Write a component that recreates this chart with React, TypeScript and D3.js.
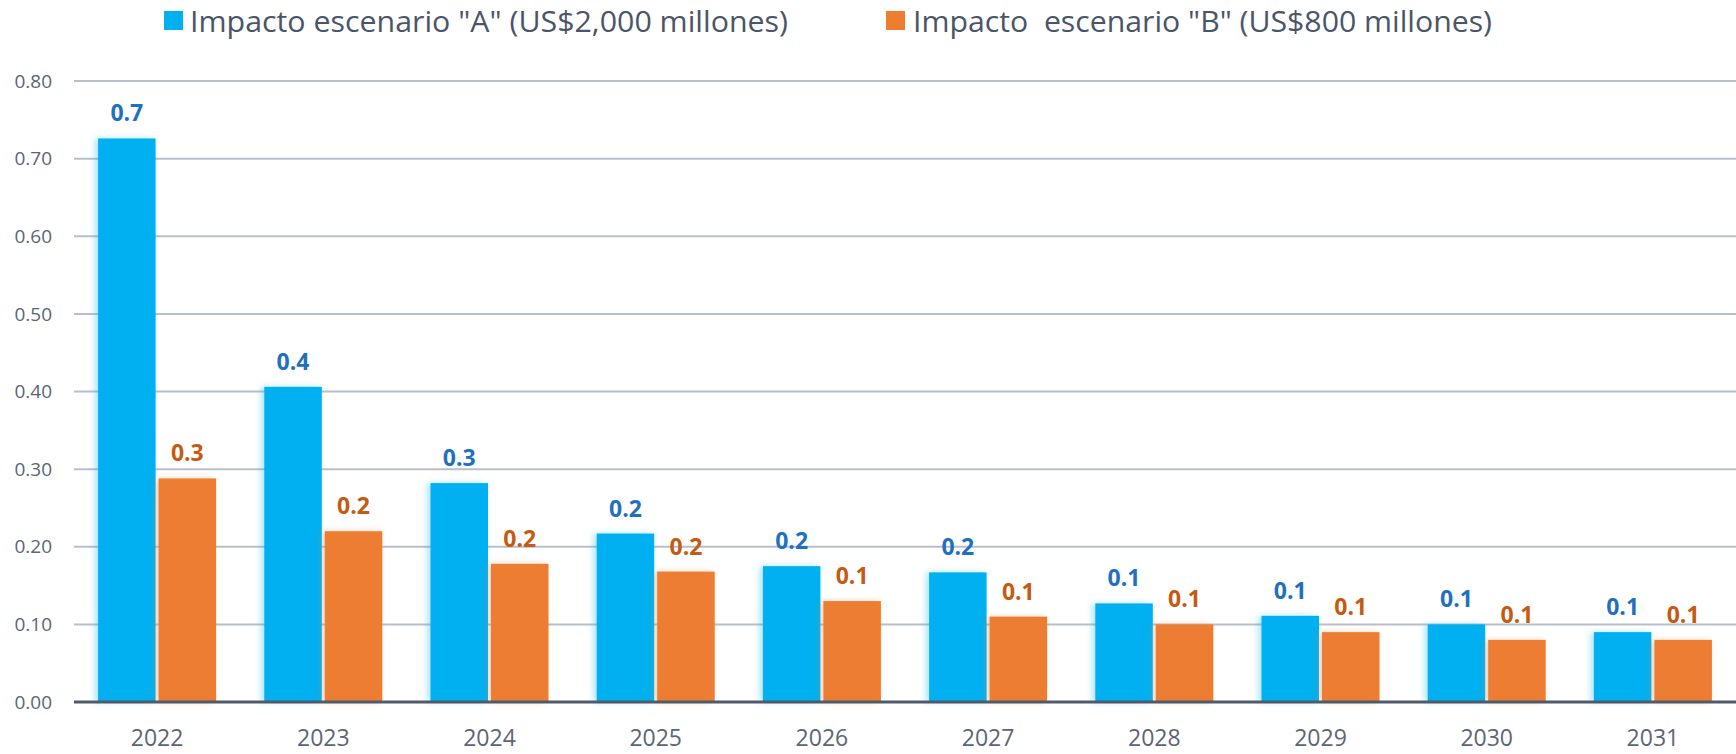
import React from "react";
import * as d3 from "d3";

const years = ["2022", "2023", "2024", "2025", "2026", "2027", "2028", "2029", "2030", "2031"];
const scenarioA = [0.726, 0.406, 0.282, 0.217, 0.175, 0.167, 0.127, 0.111, 0.1, 0.09];
const scenarioB = [0.288, 0.22, 0.178, 0.168, 0.13, 0.11, 0.1, 0.09, 0.08, 0.08];
const yTicks = [0, 0.1, 0.2, 0.3, 0.4, 0.5, 0.6, 0.7, 0.8];
const seriesNames = ['Impacto escenario "A" (US$2,000 millones)', 'Impacto  escenario "B" (US$800 millones)'];

const W = 1736;
const H = 754;
const margin = { top: 81, right: 0, bottom: 52, left: 74 };
const font = "'Segoe UI', 'Open Sans', sans-serif";

// keep the double space in the legend (svg collapses it otherwise)
const keepSpaces = (s: string) => s.replace(/ {2}/g, " \u00A0");

export default function App() {
  const x0 = d3
    .scaleBand()
    .domain(years)
    .range([margin.left, W - margin.right])
    .paddingInner(0.29)
    .paddingOuter(0.145);
  const x1 = d3.scaleBand().domain(["A", "B"]).range([0, x0.bandwidth()]).paddingInner(0.05);
  const y = d3.scaleLinear().domain([0, 0.8]).range([H - margin.bottom, margin.top]);

  const series = [
    { key: "A", values: scenarioA, fill: "#00B0F0", label: "#1F70C1" },
    { key: "B", values: scenarioB, fill: "#ED7D31", label: "#C55A11" },
  ];

  return (
    <div style={{ position: "absolute", left: 0, top: 0 }}>
      <svg width={W} height={H} style={{ display: "block", background: "#fff" }}>
        <defs>
          <filter id="glow" x="-30%" y="-5%" width="160%" height="110%">
            <feGaussianBlur in="SourceGraphic" stdDeviation="3" result="b" />
            <feOffset in="b" dx="-3" dy="0" result="o" />
            <feComponentTransfer in="o" result="f">
              <feFuncA type="linear" slope="0.35" />
            </feComponentTransfer>
            <feMerge>
              <feMergeNode in="f" />
              <feMergeNode in="SourceGraphic" />
            </feMerge>
          </filter>
        </defs>

        {/* legend */}
        <g fontFamily={font} fontSize={30} fill="#4A5568">
          <rect x={164} y={11} width={19} height={19} fill="#00B0F0" />
          <text x={190} y={32} textLength={598} lengthAdjust="spacingAndGlyphs">
            {keepSpaces(seriesNames[0])}
          </text>
          <rect x={886} y={11} width={19} height={19} fill="#ED7D31" />
          <text x={913} y={32} textLength={579} lengthAdjust="spacingAndGlyphs">
            {keepSpaces(seriesNames[1])}
          </text>
        </g>

        {/* y grid + ticks */}
        <g fontFamily={font} fontSize={19} fill="#5B6577">
          {yTicks.map((t) => (
            <g key={t}>
              {t > 0 && (
                <line x1={margin.left} x2={W} y1={y(t)} y2={y(t)} stroke="#B8BFCC" strokeWidth={2} />
              )}
              <text x={52} y={y(t)} dy="0.35em" textAnchor="end">
                {t.toFixed(2)}
              </text>
            </g>
          ))}
        </g>

        {/* bars */}
        {years.map((yr, i) => (
          <g key={yr} transform={`translate(${x0(yr)},0)`}>
            {series.map((s) => (
              <g key={s.key}>
                <rect
                  x={x1(s.key)}
                  y={y(s.values[i])}
                  width={x1.bandwidth()}
                  height={y(0) - y(s.values[i])}
                  fill={s.fill}
                  filter="url(#glow)"
                />
                <text
                  x={(x1(s.key) ?? 0) + x1.bandwidth() / 2}
                  y={y(s.values[i]) - 17}
                  textAnchor="middle"
                  fontFamily={font}
                  fontWeight="bold"
                  fontSize={23}
                  fill={s.label}
                >
                  {s.values[i].toFixed(1)}
                </text>
              </g>
            ))}
          </g>
        ))}

        {/* baseline */}
        <line x1={margin.left} x2={W} y1={y(0)} y2={y(0)} stroke="#4F5B6B" strokeWidth={3} />

        {/* x labels */}
        <g fontFamily={font} fontSize={23} fill="#5B6577" textAnchor="middle">
          {years.map((yr) => (
            <text key={yr} x={(x0(yr) ?? 0) + x0.bandwidth() / 2} y={746}>
              {yr}
            </text>
          ))}
        </g>
      </svg>
    </div>
  );
}
